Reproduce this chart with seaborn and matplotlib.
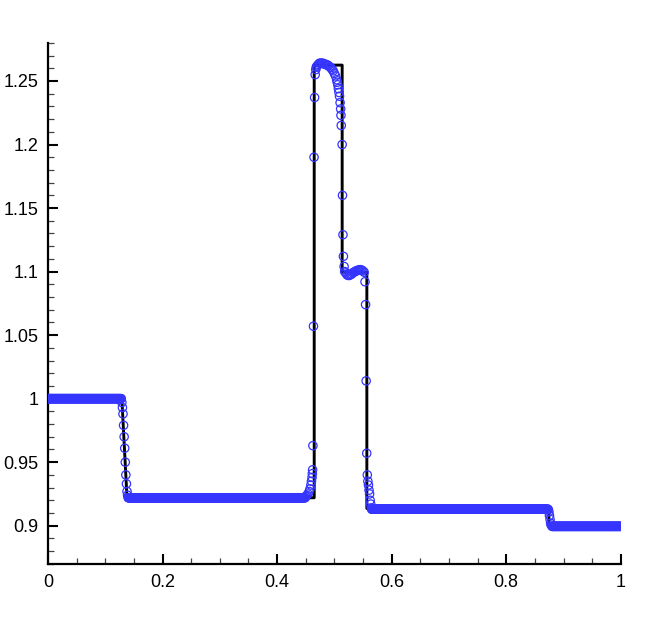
import numpy as np
import pandas as pd
import matplotlib
matplotlib.use("Agg")
import matplotlib.pyplot as plt
import seaborn as sns
from matplotlib.ticker import MultipleLocator

# -----------------------------
# exact solution (black line), corners
# -----------------------------
exact_x = [0.0, 0.129, 0.138, 0.4648, 0.4648, 0.5136, 0.5136, 0.5567, 0.5567, 0.8745, 0.8745, 1.0]
exact_y = [1.0, 1.0, 0.922, 0.922, 1.2625, 1.2625, 1.0995, 1.0995, 0.9135, 0.9135, 0.9, 0.9]

# -----------------------------
# numerical solution (blue circles)
# flat stretches: start, end, level  (grid step dx)
# -----------------------------
dx = 0.001
flat_start = [0.0, 0.140, 0.565, 0.880]
flat_end = [0.128, 0.449, 0.873, 1.0]
flat_level = [1.0, 0.922, 0.913, 0.8995]

# points inside the waves, read one by one
wave_x = [
    # rarefaction near 0.13
    0.129, 0.130, 0.131, 0.132, 0.133, 0.134, 0.135, 0.136, 0.137, 0.138, 0.139,
    # foot and shock near 0.465
    0.450, 0.452, 0.454, 0.456, 0.4575, 0.459, 0.460, 0.461, 0.4615, 0.462,
    0.4625, 0.4635, 0.4645, 0.4655, 0.4665, 0.4675, 0.4685, 0.470, 0.472, 0.474,
    # top state
    0.476, 0.478, 0.480, 0.482, 0.484, 0.486, 0.488, 0.490, 0.492, 0.494,
    0.496, 0.498, 0.500, 0.502, 0.504, 0.505, 0.506, 0.507, 0.508, 0.509,
    0.510, 0.511, 0.5115, 0.512,
    # contact near 0.514
    0.5136, 0.5142, 0.5150, 0.5158, 0.5170,
    # 1.1 state
    0.518, 0.520, 0.522, 0.524, 0.526, 0.528, 0.530, 0.532, 0.534, 0.536,
    0.538, 0.540, 0.542, 0.544, 0.546, 0.548, 0.550, 0.552,
    # drop near 0.556
    0.5535, 0.5545, 0.5555, 0.5565, 0.5575, 0.5585, 0.5595, 0.5605, 0.5615,
    0.5625, 0.5635, 0.5645,
    # small step near 0.875
    0.8735, 0.8745, 0.8755, 0.8765, 0.8775, 0.8785,
]
wave_y = [
    0.997, 0.993, 0.988, 0.979, 0.970, 0.961, 0.950, 0.940, 0.933, 0.927, 0.924,
    0.923, 0.924, 0.925, 0.927, 0.929, 0.932, 0.935, 0.938, 0.941, 0.944,
    0.963, 1.057, 1.190, 1.237, 1.255, 1.259, 1.261, 1.262, 1.263, 1.264,
    1.264, 1.264, 1.264, 1.2635, 1.263, 1.263, 1.2625, 1.262, 1.261, 1.2605,
    1.259, 1.258, 1.256, 1.254, 1.251, 1.249, 1.247, 1.244, 1.241, 1.238,
    1.233, 1.228, 1.223, 1.215,
    1.200, 1.160, 1.129, 1.112, 1.104,
    1.100, 1.099, 1.0975, 1.097, 1.097, 1.0975, 1.098, 1.099, 1.0995, 1.100,
    1.1005, 1.101, 1.101, 1.1015, 1.1015, 1.101, 1.1005, 1.0995,
    1.092, 1.074, 1.014, 0.957, 0.940, 0.935, 0.932, 0.928, 0.925,
    0.920, 0.917, 0.914,
    0.9125, 0.911, 0.908, 0.905, 0.902, 0.9005,
]

# -----------------------------
# build tables
# -----------------------------
xs, ys = [], []
for a, b, v in zip(flat_start, flat_end, flat_level):
    pts = np.arange(a, b + dx / 2, dx)
    xs.extend(pts)
    ys.extend([v] * len(pts))
xs.extend(wave_x)
ys.extend(wave_y)
num = pd.DataFrame({"x": xs, "y": ys}).sort_values("x")
exact = pd.DataFrame({"x": exact_x, "y": exact_y})

# -----------------------------
# plot
# -----------------------------
sns.set_style("ticks")
plt.rcParams["font.family"] = ["Liberation Sans", "DejaVu Sans"]

fig = plt.figure(figsize=(6.48, 6.40), dpi=100)
ax = fig.add_axes([0.074, 0.119, 0.884, 0.814])

sns.lineplot(data=exact, x="x", y="y", estimator=None, sort=False,
             color="black", linewidth=2.1, ax=ax, zorder=2)
sns.scatterplot(data=num, x="x", y="y", marker="o", s=36,
                facecolor="none", edgecolor="#3535ff", linewidth=0.9,
                ax=ax, zorder=3)

ax.set_xlim(0, 1)
ax.set_ylim(0.87, 1.28)
ax.set_xlabel("")
ax.set_ylabel("")

ax.xaxis.set_major_locator(MultipleLocator(0.2))
ax.xaxis.set_minor_locator(MultipleLocator(0.05))
ax.yaxis.set_major_locator(MultipleLocator(0.05))
ax.yaxis.set_minor_locator(MultipleLocator(0.01))
ax.xaxis.set_major_formatter(plt.FuncFormatter(lambda v, p: f"{v:g}"))
ax.yaxis.set_major_formatter(plt.FuncFormatter(lambda v, p: f"{v:g}"))

ax.tick_params(which="major", direction="in", length=7.5, width=1.5,
               labelsize=13, pad=7, color="black", labelcolor="black")
ax.tick_params(which="minor", direction="in", length=4.5, width=0.9, color="#444444")

sns.despine(ax=ax)
for side in ["left", "bottom"]:
    ax.spines[side].set_linewidth(1.6)
    ax.spines[side].set_color("black")

fig.savefig("out.png", dpi=100, facecolor="white")
